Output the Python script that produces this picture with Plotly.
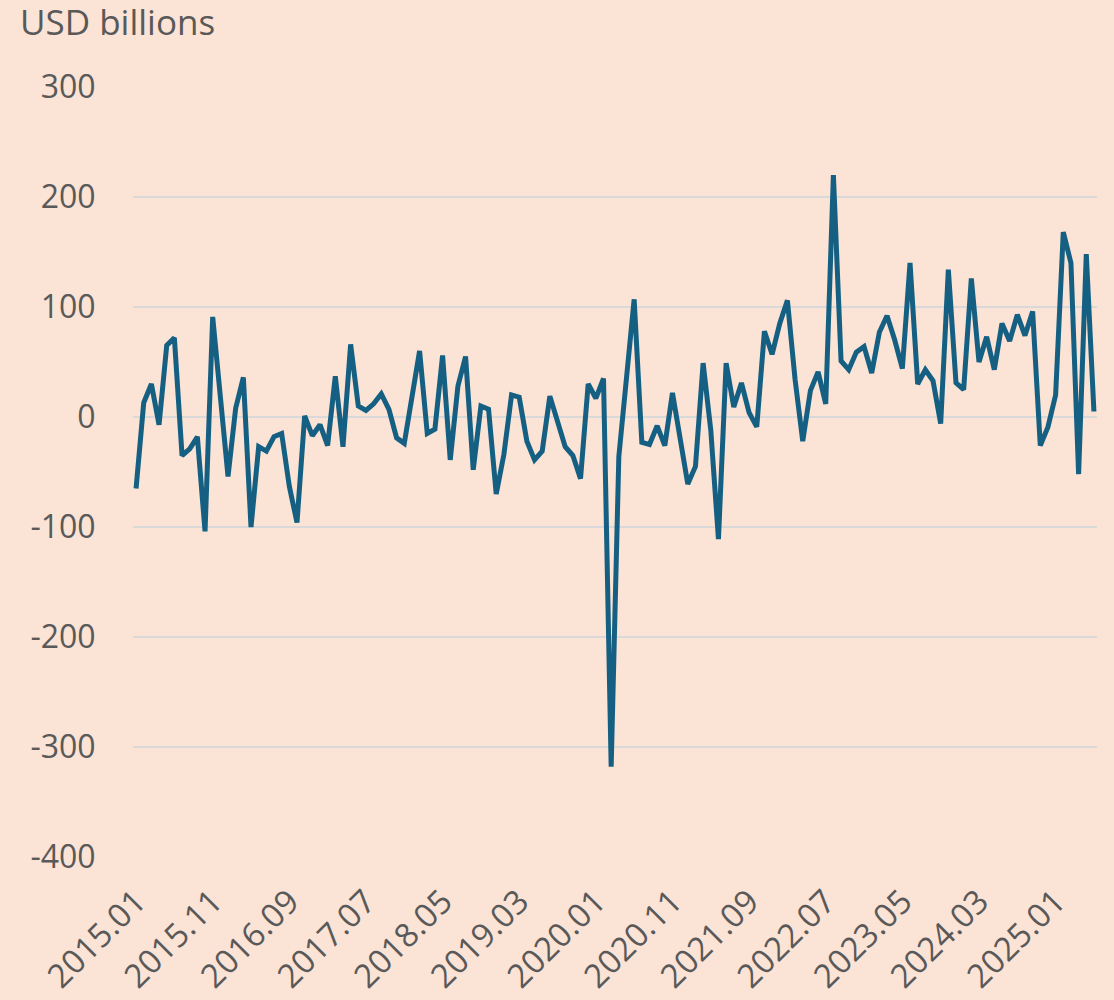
import pandas as pd
import plotly.graph_objects as go

# monthly values, 2015.01 - 2025.06 (USD billions)
months = [d.strftime("%Y.%m") for d in pd.date_range("2015-01-01", "2025-06-01", freq="MS")]

values = [
    -65, 13, 30, -7, 65, 72, -35, -29, -18, -104, 91, 20,        # 2015
    -54, 8, 36, -100, -27, -31, -18, -15, -63, -96, 1, -17,      # 2016
    -7, -26, 37, -27, 66, 10, 6, 12, 21, 7, -19, -24,            # 2017
    17, 60, -15, -11, 56, -39, 28, 55, -48, 10, 7, -70,          # 2018
    -34, 20, 18, -22, -39, -31, 19, -6, -27, -35, -56, 30,       # 2019
    17, 35, -318, -36, 39, 107, -23, -25, -8, -26, 22, -18,      # 2020
    -61, -45, 49, -12, -111, 49, 9, 31, 4, -9, 78, 57,           # 2021
    85, 106, 34, -22, 24, 41, 12, 220, 51, 43, 59, 64,           # 2022
    40, 77, 92, 70, 44, 140, 30, 43, 33, -6, 134, 31,            # 2023
    25, 126, 50, 73, 43, 85, 69, 93, 74, 96, -26, -9,            # 2024
    20, 168, 140, -52, 148, 5,                                   # 2025
]

tick_labels = months[::10]
y_ticks = [300, 200, 100, 0, -100, -200, -300, -400]
y_tick_text = ["300", "200", "100", "0", "-100", "-200", "-300", "-400"]

BG = "#FBE3D6"
TEXT = "#595959"

fig = go.Figure()
fig.add_trace(go.Scatter(
    x=months,
    y=values,
    mode="lines",
    line=dict(color="#156082", width=5),
    hoverinfo="x+y",
))

fig.update_layout(
    width=1114,
    height=1000,
    paper_bgcolor=BG,
    plot_bgcolor=BG,
    showlegend=False,
    margin=dict(l=133, r=17, t=87, b=143, autoexpand=False),
    font=dict(family="Open Sans", size=32, color=TEXT),
    title=dict(
        text="USD billions",
        x=20 / 1114, xref="container", xanchor="left",
        y=0.99, yref="container", yanchor="top",
        font=dict(family="Open Sans", size=35, color=TEXT),
    ),
)

fig.update_xaxes(
    type="category",
    range=[-0.4, len(months) - 0.6],
    tickmode="array",
    tickvals=tick_labels,
    ticktext=tick_labels,
    tickangle=-45,
    tickfont=dict(size=33),
    ticks="outside",
    ticklen=11,
    tickcolor="rgba(0,0,0,0)",
    showgrid=False,
    showline=False,
    zeroline=False,
    automargin=False,
)

fig.update_yaxes(
    range=[-400, 300],
    tickmode="array",
    tickvals=y_ticks,
    ticktext=y_tick_text,
    ticks="outside",
    ticklen=30,
    tickcolor="rgba(0,0,0,0)",
    showgrid=True,
    gridcolor="#D9D9D9",
    gridwidth=1.5,
    zeroline=False,
    showline=False,
    automargin=False,
)

# page has a default 8px body margin; remove it so the chart sits at the window corner
fig.write_html(
    "out.html",
    config={"displayModeBar": False},
    post_script="document.body.style.margin='0';",
)
